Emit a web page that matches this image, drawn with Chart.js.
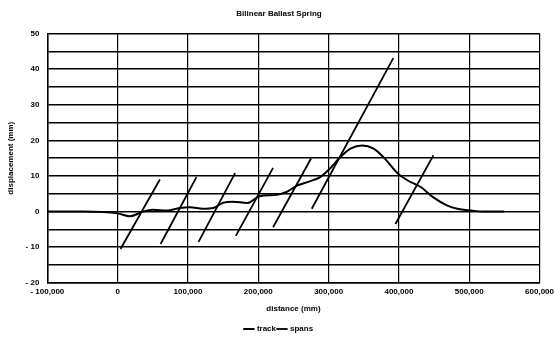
<!DOCTYPE html>
<html>
<head>
<meta charset="utf-8">
<script src="https://cdn.jsdelivr.net/npm/chart.js@4/dist/chart.umd.min.js"></script>
<style>
  html, body { margin: 0; padding: 0; background: #fff; }
  #wrap { width: 554px; height: 339px; }
</style>
</head>
<body>
<div id="wrap"><canvas id="chart"></canvas></div>
<script>
// track displacement along the distance (mm)
const trackX = [-100000, -50000, 0, 17000, 36000, 50000, 70000, 88000, 103000, 121000, 136000, 150000, 164000, 184000,
  202000, 226000, 240000, 255000, 273000, 288000, 302000, 316000, 331000, 348000, 364000, 378000, 398000, 412000,
  431000, 449000, 469000, 483000, 503000, 520000, 550000]
const trackY = [0, 0, -0.5, -1.3, 0, 0.5, 0.3, 1.0, 1.2, 0.8, 1.0, 2.5, 2.8, 2.4,
  4.3, 4.7, 5.5, 7.3, 8.5, 9.7, 12.1, 15.2, 17.7, 18.6, 17.7, 15.3, 10.8, 8.8,
  6.9, 4.0, 1.7, 0.8, 0.3, 0, 0]

// spans: each one a straight segment from start to end
const spanStartX = [4000, 61000, 115000, 168000, 221000, 276000, 395000]
const spanStartY = [-10.5, -9.1, -8.5, -6.8, -4.4, 0.8, -3.5]
const spanEndX = [60000, 112000, 167000, 221000, 275000, 392000, 449000]
const spanEndY = [9.0, 9.7, 10.8, 12.3, 14.9, 43.1, 15.8]

const xTicks = [-100000, 0, 100000, 200000, 300000, 400000, 500000, 600000]

function fmt(v) {
  const s = Math.abs(v).toLocaleString('en-US')
  return v < 0 ? '- ' + s : s
}

const trackData = trackX.map((x, i) => ({x: x, y: trackY[i]}))
const spanData = []
spanStartX.forEach((x, i) => {
  spanData.push({x: x, y: spanStartY[i]})
  spanData.push({x: spanEndX[i], y: spanEndY[i]})
  spanData.push({x: spanEndX[i], y: null})
})

const font = {family: 'Liberation Sans, Arial, sans-serif', size: 8, weight: 'bold'}

new Chart(document.getElementById('chart'), {
  type: 'scatter',
  data: {
    datasets: [
      {
        label: 'track',
        data: trackData,
        showLine: true,
        borderColor: '#000',
        backgroundColor: '#000',
        borderWidth: 2,
        pointRadius: 0,
        tension: 0.4,
        cubicInterpolationMode: 'monotone'
      },
      {
        label: 'spans',
        data: spanData,
        showLine: true,
        spanGaps: false,
        borderColor: '#000',
        backgroundColor: '#000',
        borderWidth: 1.8,
        pointRadius: 0
      }
    ]
  },
  options: {
    responsive: true,
    maintainAspectRatio: false,
    animation: false,
    layout: {padding: {top: 5, right: 0, left: 4, bottom: -4}},
    plugins: {
      title: {
        display: true,
        text: 'Bilinear Ballast Spring',
        color: '#000',
        font: font,
        padding: {top: 4, bottom: 15}
      },
      legend: {
        position: 'bottom',
        labels: {
          color: '#000',
          font: font,
          usePointStyle: true,
          pointStyle: 'line',
          boxWidth: 16,
          padding: 2
        }
      },
      tooltip: {enabled: false}
    },
    scales: {
      x: {
        type: 'linear',
        min: -100000,
        max: 600000,
        afterBuildTicks: (axis) => { axis.ticks = xTicks.map(v => ({value: v})) },
        ticks: {color: '#000', font: font, padding: 0, maxRotation: 0, callback: (v) => fmt(v)},
        grid: {color: '#000', lineWidth: 1.2, drawTicks: true, tickLength: 4, tickColor: 'rgba(0,0,0,0)'},
        border: {color: '#000', width: 1.5},
        title: {display: true, text: 'distance (mm)', color: '#000', font: font, padding: {top: 8, bottom: 9}}
      },
      y: {
        min: -20,
        max: 50,
        ticks: {
          stepSize: 5,
          color: '#000',
          font: font,
          padding: 8,
          callback: (v) => v % 10 === 0 ? fmt(v) : ''
        },
        grid: {color: '#000', lineWidth: 1.5, drawTicks: false},
        border: {color: '#000', width: 1.5},
        title: {display: true, text: 'displacement (mm)', color: '#000', font: font, padding: 2}
      }
    }
  }
})
</script>
</body>
</html>
